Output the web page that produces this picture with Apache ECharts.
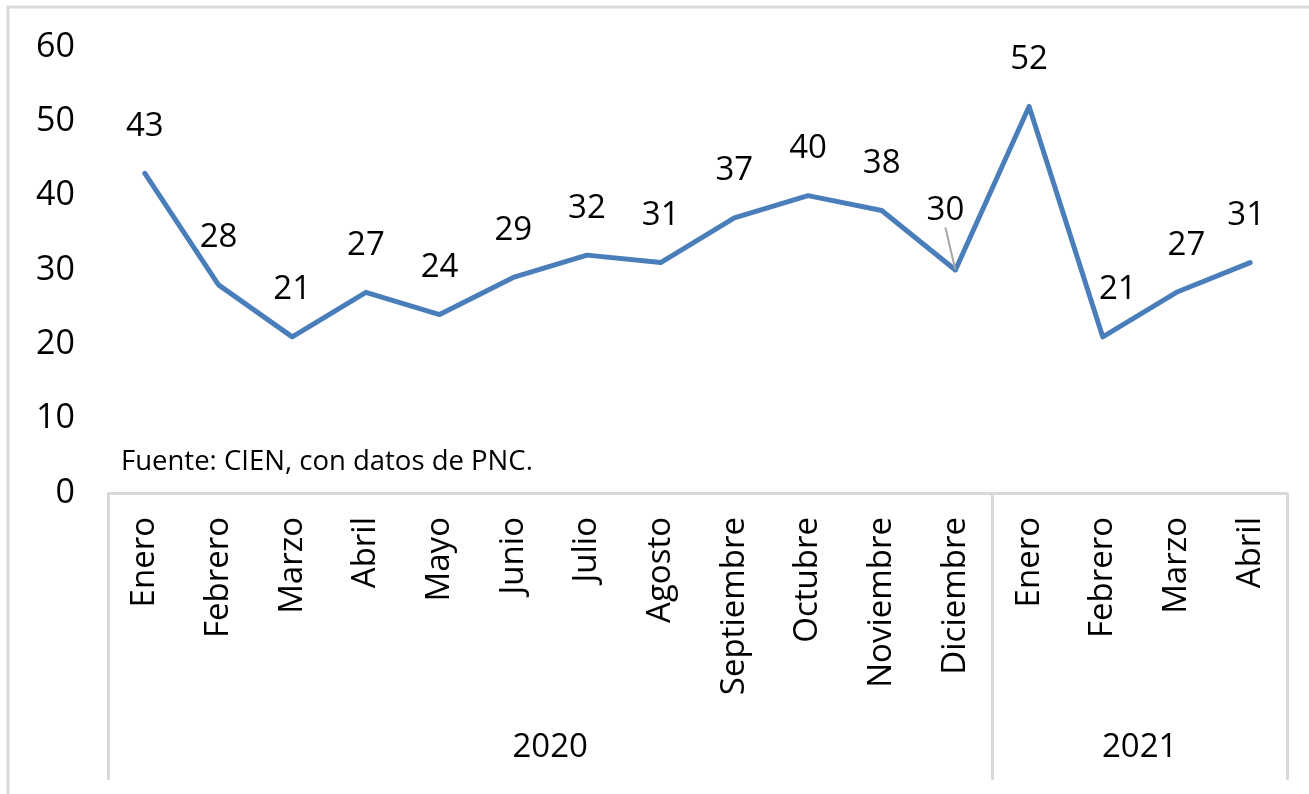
<!DOCTYPE html>
<html>
<head>
<meta charset="utf-8">
<script src="https://cdn.jsdelivr.net/npm/echarts@6/dist/echarts.min.js"></script>
<style>html,body{margin:0;padding:0;background:#fff}#c{width:1309px;height:794px}</style>
</head>
<body>
<div id="c"></div>
<script>
var months = ['Enero','Febrero','Marzo','Abril','Mayo','Junio','Julio','Agosto','Septiembre','Octubre','Noviembre','Diciembre','Enero','Febrero','Marzo','Abril'];
var values = [43,28,21,27,24,29,32,31,37,40,38,30,52,21,27,31];
var years = ['2020','2021'];
var yearBounds = [0,12,16];
var yearCenters = [6,14];
var yTicks = [0,10,20,30,40,50,60];
var source = 'Fuente: CIEN, con datos de PNC.';

var font = 'Open Sans';
var chart = echarts.init(document.getElementById('c'));
var data = values.map(function(v,i){
  if (i === 11) return {value: v, labelLine: {show: true, lineStyle: {color: '#a6a6a6', width: 2}}};
  return v;
});
chart.setOption({
  animation: false,
  textStyle: {fontFamily: font},
  graphic: [{type: 'rect', shape: {x: 8, y: 7, width: 1400, height: 900}, style: {fill: 'none', stroke: '#d9d9d9', lineWidth: 3}, silent: true}],
  title: {text: source, left: 116, top: 443, textStyle: {fontFamily: font, fontSize: 27.5, fontWeight: 'normal', color: '#000'}},
  grid: {left: 108, right: 22, top: 47, bottom: 301, containLabel: false},
  xAxis: [{
    type: 'category', data: months, boundaryGap: true, position: 'bottom',
    axisLine: {show: true, lineStyle: {color: '#d9d9d9', width: 3}},
    axisTick: {show: false},
    axisLabel: {rotate: 90, interval: 0, margin: 24, fontSize: 33, color: '#000', fontFamily: font}
  }, {
    type: 'value', min: 0, max: 16, position: 'bottom', offset: 0,
    axisLine: {show: false}, splitLine: {show: false},
    axisTick: {show: true, customValues: yearBounds, length: 287, lineStyle: {color: '#d9d9d9', width: 3}},
    axisLabel: {customValues: yearCenters, margin: 238, fontSize: 33, color: '#000', fontFamily: font,
      formatter: function(v){ var i = yearCenters.indexOf(v); return i >= 0 ? years[i] : ''; }}
  }],
  yAxis: {
    type: 'value', min: yTicks[0], max: yTicks[yTicks.length-1], interval: 10,
    axisLine: {show: false}, axisTick: {show: false}, splitLine: {show: false},
    axisLabel: {margin: 33, fontSize: 34, color: '#000', fontFamily: font}
  },
  series: [{
    type: 'line', data: data, showSymbol: true, symbol: 'circle', symbolSize: 1,
    lineStyle: {color: '#4a7ebb', width: 5, cap: 'round', join: 'round'},
    itemStyle: {color: '#4a7ebb', borderWidth: 0},
    label: {show: true, position: 'top', distance: 30, fontSize: 33, color: '#000', fontFamily: font},
    labelLayout: function(p){
      if (p.dataIndex === 11) return {dx: -10, dy: -12};
      if (p.dataIndex === 13) return {dx: 15};
      if (p.dataIndex === 14) return {dx: 10};
      if (p.dataIndex === 15) return {dx: -4};
      return {};
    }
  }]
});
</script>
</body>
</html>
